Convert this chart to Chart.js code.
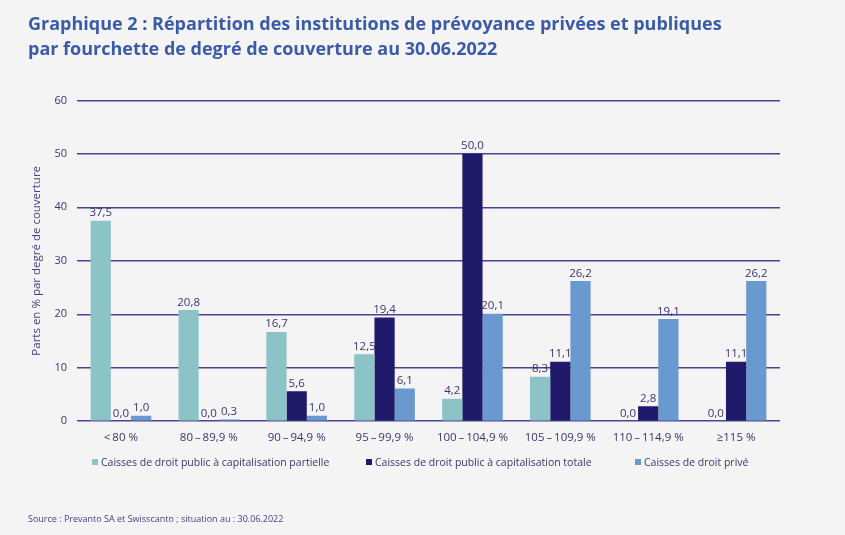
<!DOCTYPE html>
<html lang="fr">
<head>
<meta charset="utf-8">
<title>Graphique 2</title>
<script src="https://cdn.jsdelivr.net/npm/chart.js@4.4.1/dist/chart.umd.min.js"></script>
<style>
  html, body { margin: 0; padding: 0; background: #f4f4f4; }
  #wrap { width: 845px; height: 535px; position: relative; }
  #legend { position: absolute; left: 0; top: 455px; width: 845px; height: 16px;
            font: 10.5px "Open Sans", "Noto Sans", sans-serif; color: #3d3372; }
  #legend .item { position: absolute; top: 0; white-space: nowrap; line-height: 14px; }
  #legend .box { display: inline-block; width: 6px; height: 6px; margin-right: 3px; vertical-align: 1px; }
</style>
</head>
<body>
<div id="wrap"><canvas id="chart"></canvas><div id="legend"></div></div>
<script>
// Données
const categories = ['<\u200980 %', '80\u2009\u2013\u200989,9 %', '90\u2009\u2013\u200994,9 %', '95\u2009\u2013\u200999,9 %', '100\u2009\u2013\u2009104,9 %', '105\u2009\u2013\u2009109,9 %', '110\u2009\u2013\u2009114,9 %', '\u2265115 %'];
const publicPartielle = [37.5, 20.8, 16.7, 12.5, 4.2, 8.3, 0.0, 0.0];
const publicTotale = [0.0, 0.0, 5.6, 19.4, 50.0, 11.1, 2.8, 11.1];
const droitPrive = [1.0, 0.3, 1.0, 6.1, 20.1, 26.2, 19.1, 26.2];
const yTicks = [0, 10, 20, 30, 40, 50, 60];

const textColor = '#3d3372';
const fontFamily = '"Open Sans", "Noto Sans", sans-serif';

// petit plugin pour écrire les valeurs au-dessus des barres
const valueLabels = {
    id: 'valueLabels',
    afterDatasetsDraw(chart) {
        const ctx = chart.ctx;
        ctx.save();
        ctx.font = '11.5px ' + fontFamily;
        ctx.fillStyle = textColor;
        ctx.textAlign = 'center';
        ctx.textBaseline = 'bottom';
        chart.data.datasets.forEach((ds, i) => {
            chart.getDatasetMeta(i).data.forEach((bar, j) => {
                const txt = ds.data[j].toFixed(1).replace('.', ',');
                ctx.fillText(txt, bar.x, bar.y - 2);
            });
        });
        ctx.restore();
    }
};

const chart = new Chart(document.getElementById('chart'), {
    type: 'bar',
    data: {
        labels: categories,
        datasets: [
            { label: 'Caisses de droit public \u00e0 capitalisation partielle', data: publicPartielle, backgroundColor: '#8cc3c6' },
            { label: 'Caisses de droit public \u00e0 capitalisation totale', data: publicTotale, backgroundColor: '#201a6b' },
            { label: 'Caisses de droit priv\u00e9', data: droitPrive, backgroundColor: '#6a99d0' }
        ]
    },
    options: {
        responsive: true,
        maintainAspectRatio: false,
        animation: false,
        datasets: { bar: { categoryPercentage: 0.69, barPercentage: 1.0 } },
        layout: { padding: { left: 28, right: 65, top: 0, bottom: 0 } },
        scales: {
            x: {
                grid: { display: false, drawTicks: false },
                border: { display: false },
                ticks: { color: textColor, font: { size: 11.5, family: fontFamily }, padding: 10, maxRotation: 0 },
                afterFit(scale) { scale.height = 26; }
            },
            y: {
                min: 0,
                max: 60,
                afterBuildTicks(scale) { scale.ticks = yTicks.map(v => ({ value: v })); },
                grid: { color: '#4e4290', lineWidth: 1.5, drawTicks: false },
                border: { display: false },
                ticks: { color: textColor, font: { size: 11, family: fontFamily }, padding: 10 },
                title: {
                    display: true,
                    text: 'Parts en % par degr\u00e9 de couverture',
                    color: '#4b3b8a',
                    font: { size: 11.5, family: fontFamily },
                    padding: { top: 2, bottom: 6 }
                },
                afterFit(scale) { scale.width = 49; }
            }
        },
        plugins: {
            title: {
                display: true,
                align: 'start',
                text: ['Graphique 2 : R\u00e9partition des institutions de pr\u00e9voyance priv\u00e9es et publiques',
                       'par fourchette de degr\u00e9 de couverture au 30.06.2022'],
                color: '#3b5ba9',
                font: { size: 18, weight: 'bold', family: fontFamily, lineHeight: 1.4 },
                padding: { top: 12, bottom: 38 }
            },
            subtitle: {
                display: true,
                position: 'bottom',
                align: 'start',
                text: 'Source : Prevanto SA et Swisscanto ; situation au : 30.06.2022',
                color: '#4b3b8a',
                font: { size: 9, family: fontFamily },
                padding: { top: 67, bottom: 10 }
            },
            legend: { display: false },
            tooltip: { enabled: false }
        }
    },
    plugins: [valueLabels]
});

// légende en HTML, construite à partir des séries
const legendLeft = [92, 366, 635];
const legendEl = document.getElementById('legend');
chart.data.datasets.forEach((ds, i) => {
    const item = document.createElement('span');
    item.className = 'item';
    item.style.left = legendLeft[i] + 'px';
    const box = document.createElement('span');
    box.className = 'box';
    box.style.background = ds.backgroundColor;
    item.appendChild(box);
    item.appendChild(document.createTextNode(ds.label));
    legendEl.appendChild(item);
});
</script>
</body>
</html>
